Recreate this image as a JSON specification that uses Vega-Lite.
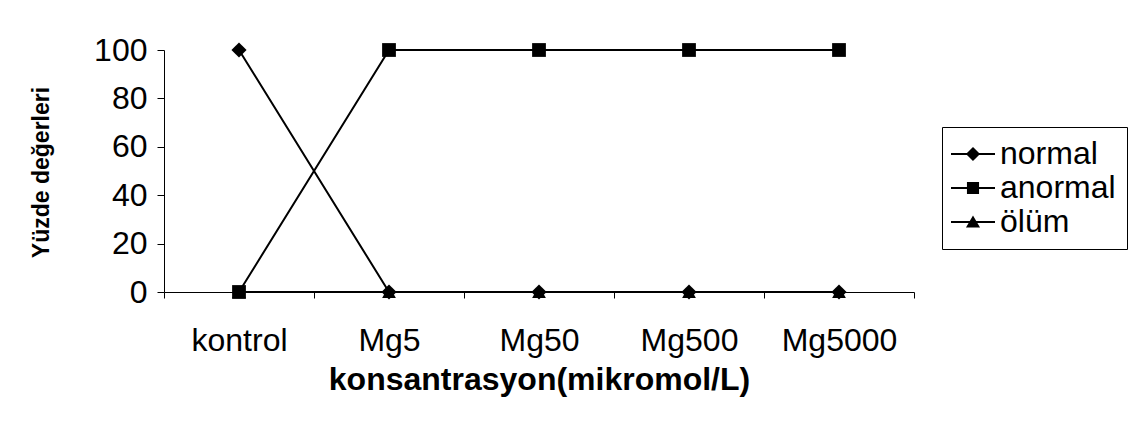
{
  "$schema": "https://vega.github.io/schema/vega-lite/v6.json",
  "autosize": {"type": "none"},
  "width": 750,
  "height": 242,
  "padding": {"left": 164, "top": 50, "right": 226, "bottom": 150},
  "background": "white",
  "config": {
    "view": {"stroke": null},
    "font": "Liberation Sans",
    "legend": {
      "orient": "none",
      "legendX": 778,
      "legendY": 77,
      "strokeColor": "black",
      "strokeWidth": 1,
      "fillColor": "white",
      "padding": 11,
      "symbolSize": 484,
      "symbolOffset": 4,
      "labelOffset": 11,
      "labelFontSize": 32,
      "labelFont": "Liberation Sans",
      "labelColor": "black",
      "rowPadding": 2
    }
  },
  "data": {
    "values": [
      {"konsantrasyon": "kontrol", "seri": "normal", "yuzde": 100},
      {"konsantrasyon": "Mg5", "seri": "normal", "yuzde": 0},
      {"konsantrasyon": "Mg50", "seri": "normal", "yuzde": 0},
      {"konsantrasyon": "Mg500", "seri": "normal", "yuzde": 0},
      {"konsantrasyon": "Mg5000", "seri": "normal", "yuzde": 0},
      {"konsantrasyon": "kontrol", "seri": "anormal", "yuzde": 0},
      {"konsantrasyon": "Mg5", "seri": "anormal", "yuzde": 100},
      {"konsantrasyon": "Mg50", "seri": "anormal", "yuzde": 100},
      {"konsantrasyon": "Mg500", "seri": "anormal", "yuzde": 100},
      {"konsantrasyon": "Mg5000", "seri": "anormal", "yuzde": 100},
      {"konsantrasyon": "kontrol", "seri": "ölüm", "yuzde": 0},
      {"konsantrasyon": "Mg5", "seri": "ölüm", "yuzde": 0},
      {"konsantrasyon": "Mg50", "seri": "ölüm", "yuzde": 0},
      {"konsantrasyon": "Mg500", "seri": "ölüm", "yuzde": 0},
      {"konsantrasyon": "Mg5000", "seri": "ölüm", "yuzde": 0}
    ]
  },
  "encoding": {
    "x": {
      "field": "konsantrasyon",
      "type": "nominal",
      "sort": ["kontrol", "Mg5", "Mg50", "Mg500", "Mg5000"],
      "scale": {"type": "band", "paddingInner": 0, "paddingOuter": 0},
      "axis": {
        "title": "konsantrasyon(mikromol/L)",
        "labelAngle": 0,
        "tickBand": "extent",
        "domainColor": "black",
        "tickColor": "black",
        "tickSize": 6,
        "labelPadding": 27,
        "labelFontSize": 32,
        "labelColor": "black",
        "titleFontSize": 32,
        "titleFontWeight": "bold",
        "titleColor": "black",
        "titleY": 87,
        "titleBaseline": "middle"
      }
    },
    "y": {
      "field": "yuzde",
      "type": "quantitative",
      "scale": {"domain": [0, 100]},
      "axis": {
        "title": "Yüzde değerleri",
        "values": [0, 20, 40, 60, 80, 100],
        "grid": false,
        "domainColor": "black",
        "tickColor": "black",
        "tickSize": 7,
        "labelPadding": 10,
        "labelFontSize": 32,
        "labelColor": "black",
        "titleFontSize": 23,
        "titleFontWeight": "bold",
        "titleColor": "black",
        "titleX": -123,
        "titleY": 122,
        "titleBaseline": "middle"
      }
    }
  },
  "layer": [
    {
      "mark": {"type": "line", "color": "black", "strokeWidth": 2},
      "encoding": {"detail": {"field": "seri"}}
    },
    {
      "mark": {"type": "point", "filled": true, "color": "black", "opacity": 1, "size": 190},
      "encoding": {
        "shape": {
          "field": "seri",
          "type": "nominal",
          "scale": {
            "domain": ["normal", "anormal", "ölüm"],
            "range": ["M0,-1.1L1.1,0L0,1.1L-1.1,0Z", "square", "triangle-up"]
          },
          "legend": null
        }
      }
    },
    {
      "transform": [{"filter": "false"}],
      "mark": {"type": "point", "filled": true, "color": "black", "opacity": 1},
      "encoding": {
        "shape": {
          "field": "seri",
          "type": "nominal",
          "scale": {
            "domain": ["normal", "anormal", "ölüm"],
            "range": [
              "M-2,-0.09H2V0.09H-2ZM0,-0.64L0.64,0L0,0.64L-0.64,0Z",
              "M-2,-0.09H2V0.09H-2ZM-0.55,-0.55H0.55V0.55H-0.55Z",
              "M-2,-0.09H2V0.09H-2ZM0,-0.6L0.64,0.5H-0.64Z"
            ]
          },
          "legend": {
            "title": null,
            "encode": {
              "symbols": {
                "update": {
                  "fill": {"value": "black"},
                  "opacity": {"value": 1}
                }
              }
            }
          }
        }
      }
    }
  ],
  "resolve": {"scale": {"shape": "independent"}}
}
